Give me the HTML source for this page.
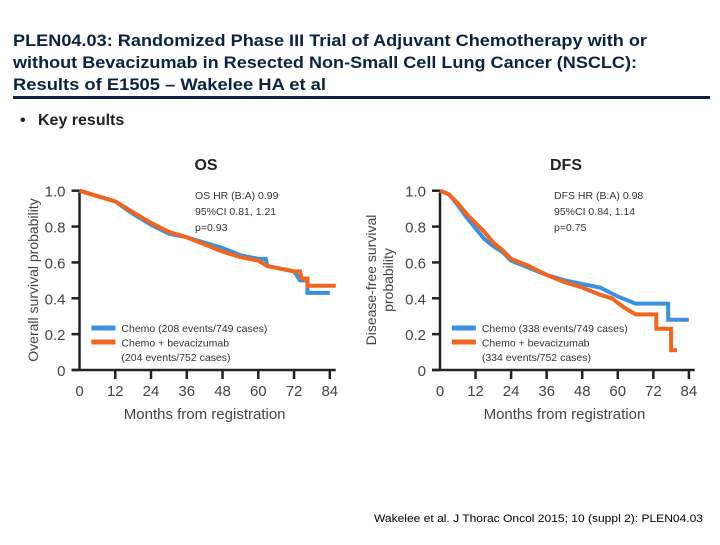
<!DOCTYPE html>
<html><head><meta charset="utf-8"><style>
body{margin:0;width:720px;height:540px;background:#fff;overflow:hidden;font-family:"Liberation Sans",sans-serif}
svg text{font-family:"Liberation Sans",sans-serif}
</style></head><body>
<svg id="s" width="720" height="540">
<g fill="#0b2340" font-weight="bold" font-size="16.5">
<text x="13" y="46" textLength="634" lengthAdjust="spacingAndGlyphs">PLEN04.03: Randomized Phase III Trial of Adjuvant Chemotherapy with or</text>
<text x="13" y="68" textLength="624" lengthAdjust="spacingAndGlyphs">without Bevacizumab in Resected Non-Small Cell Lung Cancer (NSCLC):</text>
<text x="13" y="90" textLength="313" lengthAdjust="spacingAndGlyphs">Results of E1505 – Wakelee HA et al</text>
</g>
<rect x="13" y="96" width="697" height="3" fill="#0b2340"/>
<text x="20" y="125" font-size="16" fill="#222" font-weight="bold">•<tspan x="38">Key results</tspan></text>
<text x="374" y="522" font-size="11" fill="#000" textLength="329" lengthAdjust="spacingAndGlyphs">Wakelee et al. J Thorac Oncol 2015; 10 (suppl 2): PLEN04.03</text>
<g id="os"></g>
<g id="dfs"></g>
</svg>
<script>
const months=[0,12,24,36,48,60,72,84];
const yTicks=[0,0.2,0.4,0.6,0.8,1.0];
const yTickLabels=["0","0.2","0.4","0.6","0.8","1.0"];
const osChemoT=[0,6,12,18,24,30,36,42,48,54,60,62.5,63,66,72,74,76.5,76.5,84];
const osChemoS=[1,0.97,0.94,0.87,0.81,0.76,0.74,0.71,0.68,0.64,0.62,0.62,0.58,0.57,0.55,0.50,0.50,0.43,0.43];
const osBevT=[0,6,12,18,24,30,36,42,48,54,60,63,66,72,74,74.5,76.5,76.5,86];
const osBevS=[1,0.97,0.94,0.88,0.82,0.77,0.74,0.70,0.66,0.63,0.61,0.58,0.57,0.55,0.55,0.51,0.51,0.47,0.47];
const dfsChemoT=[0,3,6,9,12,15,18,21,24,30,36,42,48,54,60,66,77,77,84];
const dfsChemoS=[1,0.98,0.92,0.85,0.79,0.73,0.69,0.66,0.61,0.57,0.53,0.50,0.48,0.46,0.41,0.37,0.37,0.28,0.28];
const dfsBevT=[0,3,6,9,12,15,18,21,24,30,36,42,48,54,58,62,66,73,73,78,78,80];
const dfsBevS=[1,0.98,0.93,0.87,0.82,0.77,0.71,0.67,0.62,0.58,0.53,0.49,0.46,0.42,0.40,0.35,0.31,0.31,0.23,0.23,0.11,0.11];
const NS='http://www.w3.org/2000/svg';
function mk(p,tag,a,txt){const e=document.createElementNS(NS,tag);for(const k in a)e.setAttribute(k,a[k]);if(txt!==undefined)e.textContent=txt;p.appendChild(e);return e;}
function chart(g,cfg){
 const x=m=>cfg.x0+m*cfg.pxm, y=v=>370-v*179.3;
 const t=mk(g,'text',{x:cfg.titleX,y:170,'font-size':16,'font-weight':'bold','text-anchor':'middle',fill:'#222'},cfg.title);
 
 
 const ax=mk(g,'path',{d:`M${x(0)} 190V370M${x(0)-8} 370H${x(86)}`,stroke:'#222','stroke-width':2.5,fill:'none'});
 
 
 yTicks.forEach((v,i)=>{
  const tk=mk(g,'path',{d:`M${x(0)-8} ${y(v)}H${x(0)}`,stroke:'#222','stroke-width':2.5});
  
  
  const l=mk(g,'text',{x:x(0)-14,y:y(v)+6,'font-size':15,'text-anchor':'end',fill:'#444'},yTickLabels[i]);
  
  
 });
 months.forEach(m=>{
  if(m>0){const tk=mk(g,'path',{d:`M${x(m)} 370v9`,stroke:'#222','stroke-width':2.5});
  
  }
  const l=mk(g,'text',{x:x(m),y:396,'font-size':15,'text-anchor':'middle',fill:'#444'},String(m));
  
  
 });
 const xt=mk(g,'text',{x:x(42),y:419,'font-size':15,'text-anchor':'middle',fill:'#444'},'Months from registration');
 
 
 cfg.ylab.forEach((s,i)=>{
  const yl=mk(g,'text',{transform:`translate(${cfg.ylx+i*17},280) rotate(-90)`,'font-size':14,'text-anchor':'middle',fill:'#444'},s);
  
  
 });
 cfg.hr.forEach((s,i)=>{
  const h=mk(g,'text',{x:cfg.hrx,y:199+i*16,'font-size':10.5,fill:'#333'},s);
  
  
 });
 function curve(T,S,col,name){
  let d=`M${x(T[0])} ${y(S[0])}`;
  for(let i=1;i<T.length;i++){d+=`L${x(T[i])} ${y(S[i])}`;}
  const p=mk(g,'path',{d,stroke:col,'stroke-width':4,fill:'none','stroke-linejoin':'miter'});
  
  
 }
 curve(cfg.cT,cfg.cS,'#3d8fe0','chemo-curve');
 curve(cfg.bT,cfg.bS,'#f0661e','bevacizumab-curve');
 const lx=x(4);
 const l1=mk(g,'path',{d:`M${lx} 328h24`,stroke:'#3d8fe0','stroke-width':5});
 
 
 const l2=mk(g,'path',{d:`M${lx} 342h24`,stroke:'#f0661e','stroke-width':5});
 
 
 cfg.leg.forEach((s,i)=>{
  const lt=mk(g,'text',{x:lx+30,y:332+i*14.5,'font-size':10.5,fill:'#333'},s);
  
  
 });
}
chart(document.getElementById('os'),{x0:79.5,pxm:2.98,title:'OS',titleX:206,ylab:['Overall survival probability'],ylx:38,hrx:195,
 hr:['OS HR (B:A) 0.99','95%CI 0.81, 1.21','p=0.93'],cT:osChemoT,cS:osChemoS,bT:osBevT,bS:osBevS,
 leg:['Chemo (208 events/749 cases)','Chemo + bevacizumab','(204 events/752 cases)']});
chart(document.getElementById('dfs'),{x0:440,pxm:2.963,title:'DFS',titleX:566,ylab:['Disease-free survival','probability'],ylx:376,hrx:554,
 hr:['DFS HR (B:A) 0.98','95%CI 0.84, 1.14','p=0.75'],cT:dfsChemoT,cS:dfsChemoS,bT:dfsBevT,bS:dfsBevS,
 leg:['Chemo (338 events/749 cases)','Chemo + bevacizumab','(334 events/752 cases)']});
</script>
</body></html>
